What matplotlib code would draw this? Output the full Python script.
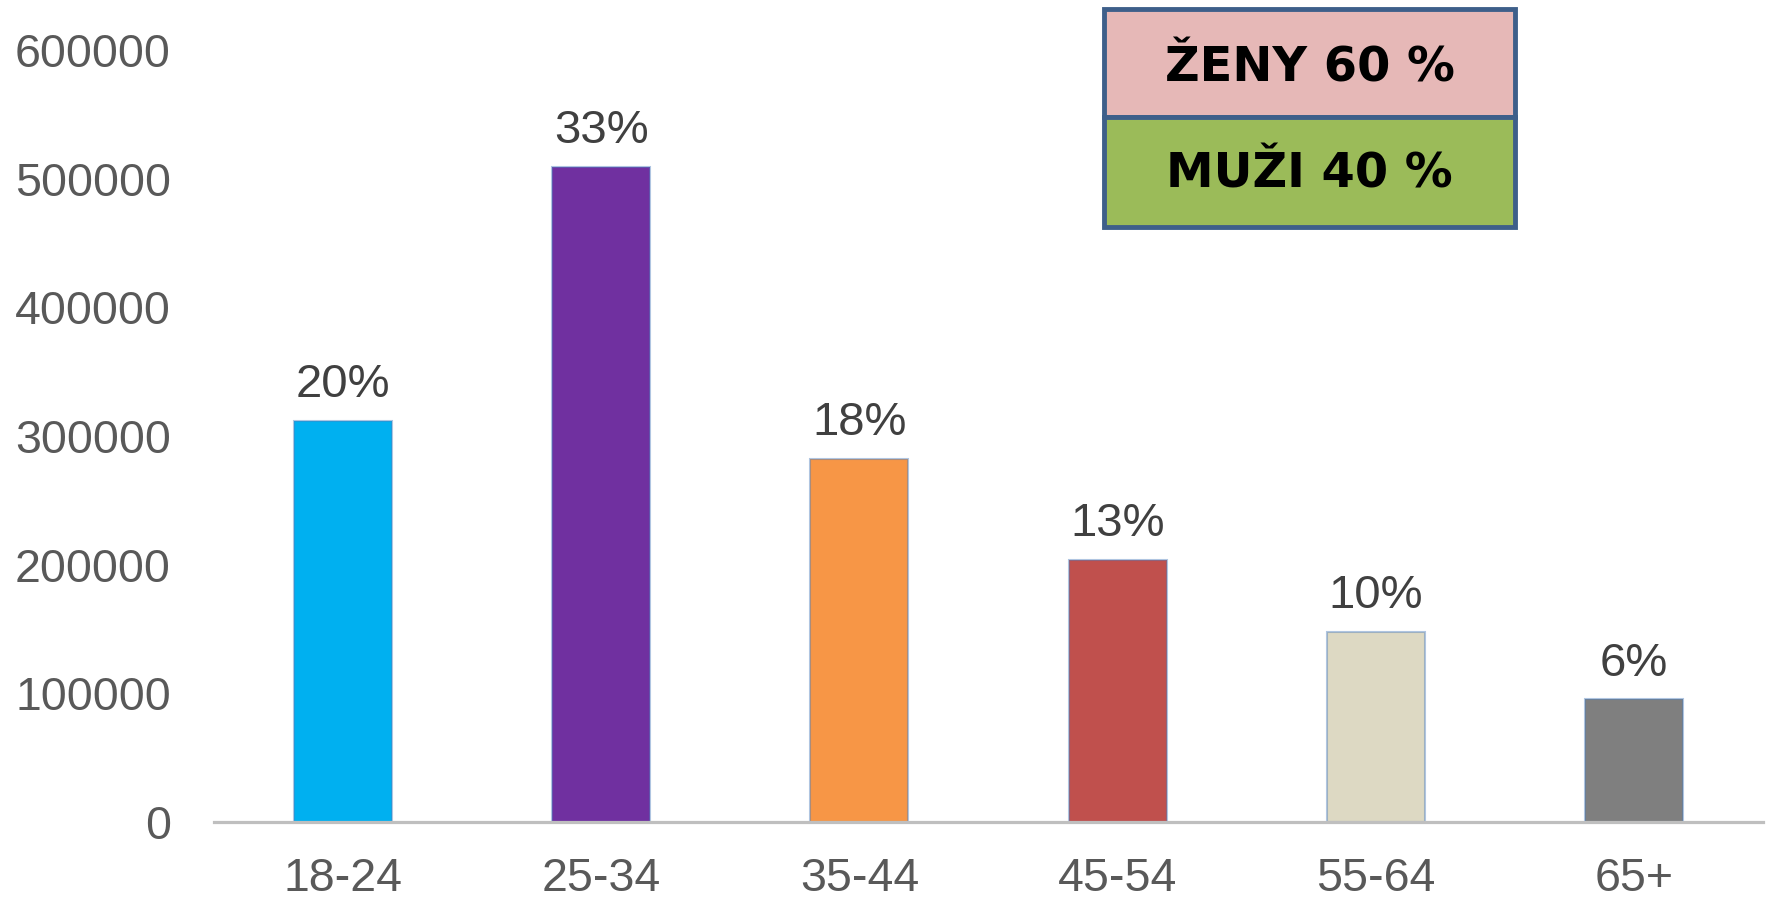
import matplotlib.pyplot as plt
from matplotlib.patches import Rectangle

plt.rcParams['font.family'] = ['Liberation Sans', 'DejaVu Sans']

age_groups = ["18-24", "25-34", "35-44", "45-54", "55-64", "65+"]
counts = [311500, 509000, 282500, 203700, 147900, 95300]
share_labels = ["20%", "33%", "18%", "13%", "10%", "6%"]
bar_colors = ["#00B0F0", "#7030A0", "#F79646", "#C0504D", "#DDD9C3", "#7F7F7F"]
yticks = [0, 100000, 200000, 300000, 400000, 500000, 600000]
gender_labels = ["ŽENY 60 %", "MUŽI 40 %"]
gender_colors = ["#E6B8B7", "#9BBB59"]

fig = plt.figure(figsize=(17.66, 8.98), dpi=100)
ax = fig.add_axes([0.1212, 0.0846, 0.8771, 0.8597])

x = range(len(age_groups))
bars = ax.bar(x, counts, width=0.38, color=bar_colors,
              edgecolor=(0.31, 0.5, 0.74, 0.45), linewidth=1.5, zorder=2)

for b, lab in zip(bars, share_labels):
    ax.annotate(lab, (b.get_x() + b.get_width() / 2, b.get_height()),
                xytext=(0, 10), textcoords="offset points",
                ha="center", va="bottom", fontsize=34, color="#404040")

ax.set_xlim(-0.5, 5.5)
ax.set_ylim(0, 600000)
ax.set_xticks(list(x))
ax.set_xticklabels(age_groups)
ax.set_yticks(yticks)
ax.set_yticklabels([str(v) for v in yticks])
ax.tick_params(axis="x", length=0, pad=25, labelsize=33.5, labelcolor="#595959")
ax.tick_params(axis="y", length=0, pad=31, labelsize=33.5, labelcolor="#595959")

for s in ["top", "right", "left"]:
    ax.spines[s].set_visible(False)
ax.spines["bottom"].set_color("#BFBFBF")
ax.spines["bottom"].set_linewidth(2.3)

# gender share boxes, placed in figure pixels (top, bottom, text baseline)
bx, bw = 1104 / 1766, 411 / 1766
box_rows = [(9, 117, 81), (117, 227, 188)]
for (top, bot, base), lab, col in zip(box_rows, gender_labels, gender_colors):
    y0 = (898 - bot) / 898
    h = (bot - top) / 898
    fig.add_artist(Rectangle((bx, y0), bw, h, transform=fig.transFigure,
                             facecolor=col, edgecolor="#3E5F8A", linewidth=3.5))
    fig.text(bx + bw / 2, (898 - base) / 898, lab, ha="center", va="baseline",
             fontsize=34.5, fontweight="bold", family="DejaVu Sans", color="black")

fig.savefig("out.png", dpi=100)
